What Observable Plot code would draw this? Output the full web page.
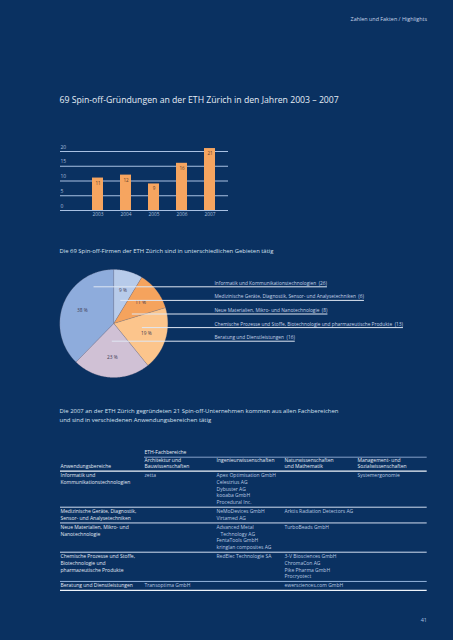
<!DOCTYPE html>
<html><head><meta charset="utf-8">
<script src="https://cdn.jsdelivr.net/npm/d3@7"></script>
<script src="https://cdn.jsdelivr.net/npm/@observablehq/plot@0.6"></script>
<style>
html,body{margin:0;padding:0;background:#0a3161;}
#page{position:relative;width:453px;height:640px;overflow:hidden;background:#0a3161;font-family:"Open Sans","Noto Sans",sans-serif;}
.abs{position:absolute;white-space:pre;}
svg{position:absolute;left:0;}
</style></head>
<body><div id="page"></div>
<script>
// ---------- DATA ----------
const headerText = "Zahlen und Fakten / Highlights";
const title1 = "69 Spin-off-Gründungen an der ETH Zürich in den Jahren 2003 – 2007";
const title2 = "Die 69 Spin-off-Firmen der ETH Zürich sind in unterschiedlichen Gebieten tätig";
const title3 = "Die 2007 an der ETH Zürich gegründeten 21 Spin-off-Unternehmen kommen aus allen Fachbereichen\nund sind in verschiedenen Anwendungsbereichen tätig";
const pageNumber = "41";

const years = ["2003", "2004", "2005", "2006", "2007"];
const spinoffs = [11, 12, 9, 16, 21];
const yTicks = [0, 5, 10, 15, 20];

// legend order (pie runs clockwise from 12 o'clock starting with the 2nd entry)
const fields = [
  "Informatik und Kommunikationstechnologien",
  "Medizinische Geräte, Diagnostik, Sensor- und Analysetechniken",
  "Neue Materialien, Mikro- und Nanotechnologie",
  "Chemische Prozesse und Stoffe, Biotechnologie und pharmazeutische Produkte",
  "Beratung und Dienstleistungen"
];
const fieldCounts = [26, 6, 8, 13, 16];
const fieldPercents = ["38 %", "9 %", "11 %", "19 %", "23 %"];
const fieldColors = ["#8eacdc", "#b7cbea", "#f5a35d", "#fcc58c", "#d0c1d5"];

const tableGroupLabel = "ETH-Fachbereiche";
const tableColumns = [
  "\nAnwendungsbereiche",
  "Architektur und\nBauwissenschaften",
  "Ingenieurwissenschaften",
  "Naturwissenschaften\nund Mathematik",
  "Management- und\nSozialwissenschaften"
];
const tableRows = [
  ["Informatik und\nKommunikationstechnologien", "zetta", "Apex Optimisation GmbH\nCelestrius AG\nDybuster AG\nkooaba GmbH\nProcedural Inc.", "", "Systemergonomie"],
  ["Medizinische Geräte, Diagnostik,\nSensor- und Analysetechniken", "", "NeMoDevices GmbH\nVirtamed AG", "Arktis Radiation Detectors AG", ""],
  ["Neue Materialien, Mikro- und\nNanotechnologie", "", "Advanced Metal\n\u00a0\u00a0\u00a0Technology AG\nFentaTools GmbH\nkringlan composites AG", "TurboBeads GmbH", ""],
  ["Chemische Prozesse und Stoffe,\nBiotechnologie und\npharmazeutische Produkte", "", "RedElec Technologie SA", "3-V Biosciences GmbH\nChromaCon AG\nPike Pharma GmbH\nProcryotect", ""],
  ["Beratung und Dienstleistungen", "Transoptima GmbH", "", "ewersciences.com GmbH", ""]
];

// ---------- LAYOUT ----------
const FONT = "'Open Sans','Noto Sans',sans-serif";
const W = 453;
const page = document.getElementById("page");

function addText(txt, {x, cy, size, color, anchor = "start", lh, weight = 400}) {
  const d = document.createElement("div");
  d.className = "abs";
  d.textContent = txt;
  const L = lh || size * 1.25;
  d.style.fontSize = size + "px";
  d.style.lineHeight = L + "px";
  d.style.top = (cy - L / 2) + "px";
  d.style.color = color;
  d.style.fontWeight = weight;
  if (anchor === "end") { d.style.right = (W - x) + "px"; d.style.textAlign = "right"; }
  else d.style.left = x + "px";
  page.appendChild(d);
}
function place(svg, top) { svg.style.top = top + "px"; page.appendChild(svg); }

addText(headerText, {x: 427, cy: 19.5, size: 5.4, color: "#c9d6ea", anchor: "end"});
addText(title1, {x: 59.5, cy: 100.5, size: 8.7, color: "#e6edf6"});
addText(title2, {x: 59.5, cy: 251.7, size: 5.9, color: "#d5e0ef"});
addText(title3, {x: 59.5, cy: 411.7, size: 5.95, color: "#d5e0ef", lh: 9});
addText(pageNumber, {x: 427, cy: 620.7, size: 5.5, color: "#a9c0e2", anchor: "end"});

// ---------- BAR CHART ----------
const barData = years.map((year, i) => ({year, value: spinoffs[i]}));
const bar = Plot.plot({
  width: W, height: 85,
  marginLeft: 60, marginRight: 225, marginTop: 11, marginBottom: 15,
  style: {background: "transparent", fontFamily: FONT},
  x: {type: "band", domain: years, range: [91, 215], paddingInner: 0.611, paddingOuter: 0, axis: null},
  y: {domain: [0, 20], axis: null},
  marks: [
    Plot.ruleY(yTicks, {stroke: "#a9c1e3", strokeWidth: 1.2}),
    Plot.barY(barData, {x: "year", y: "value", fill: "#f6a560"}),
    Plot.text(barData, {x: "year", y: "value", text: d => String(d.value), dy: 5, fontSize: 4.6, fill: "#5e402a"}),
    Plot.text(yTicks, {y: d => d, frameAnchor: "left", textAnchor: "start", dy: -4.5, text: d => String(d), fontSize: 5, fill: "#a9bedf"}),
    Plot.text(barData, {x: "year", frameAnchor: "bottom", dy: 5.7, text: "year", fontSize: 4.8, fill: "#a9bedf"})
  ]
});
place(bar, 140);

// ---------- PIE ----------
const PIE_TOP = 262;
const cx = 113.3, cy = 323 - PIE_TOP, R = 54;
const total = d3.sum(fieldCounts);
const startAngle = -2 * Math.PI * fieldCounts[0] / total;
const arcs = d3.pie().sort(null).startAngle(startAngle).endAngle(startAngle + 2 * Math.PI)(fieldCounts);

const slicePts = arcs.flatMap((a, i) => {
  const n = Math.max(2, Math.ceil((a.endAngle - a.startAngle) / 0.01));
  const pts = [{field: fields[i], x: cx, y: cy}];
  for (let k = 0; k <= n; k++) {
    const t = a.startAngle + (a.endAngle - a.startAngle) * k / n;
    pts.push({field: fields[i], x: cx + R * Math.sin(t), y: cy - R * Math.cos(t)});
  }
  pts.push({field: fields[i], x: cx, y: cy});
  return pts;
});

// legend rows
const LEG_X = 214, LEG_Y0 = 286.3 - PIE_TOP, LEG_STEP = 13.6, LEG_SIZE = 4.8;
const ctx = document.createElement("canvas").getContext("2d");
ctx.font = `${LEG_SIZE}px 'Open Sans'`;
function chordMid(a, y) {
  let lo = Infinity, hi = -Infinity;
  for (let x = cx - R; x <= cx + R; x += 0.25) {
    const dx = x - cx, dy = y - cy;
    if (dx * dx + dy * dy > R * R) continue;
    let th = Math.atan2(dx, -dy);
    while (th < a.startAngle) th += 2 * Math.PI;
    while (th >= a.startAngle + 2 * Math.PI) th -= 2 * Math.PI;
    if (th <= a.endAngle) { lo = Math.min(lo, x); hi = Math.max(hi, x); }
  }
  return (lo + hi) / 2;
}
const legendData = fields.map((f, i) => {
  const label = `${f}\u00a0 (${fieldCounts[i]})`;
  const y = LEG_Y0 + i * LEG_STEP;
  return {label, y, xs: chordMid(arcs[i], y), xe: LEG_X + ctx.measureText(label).width + 0.5};
});

const pie = Plot.plot({
  width: W, height: 122,
  style: {background: "transparent", fontFamily: FONT},
  x: {type: "identity", axis: null}, y: {type: "identity", axis: null},
  color: {domain: fields, range: fieldColors},
  marks: [
    Plot.line(slicePts, {x: "x", y: "y", z: "field", fill: "field", stroke: "#7d7482", strokeWidth: 0.4, strokeOpacity: 0.6}),
    Plot.text(arcs, {
      x: a => cx + 0.63 * R * Math.sin((a.startAngle + a.endAngle) / 2),
      y: a => cy - 0.63 * R * Math.cos((a.startAngle + a.endAngle) / 2),
      text: (a, i) => fieldPercents[i], fontSize: 4.8, fill: "#3f3c52"
    }),
    Plot.ruleY(legendData, {y: "y", x1: "xs", x2: "xe", stroke: "#dfe7f3", strokeWidth: 1}),
    Plot.text(legendData, {x: LEG_X, y: d => d.y - 3.6, text: "label", textAnchor: "start", fontSize: LEG_SIZE, fill: "#c5d3e8"})
  ]
});
place(pie, PIE_TOP);

// ---------- TABLE ----------
const T0 = 440;
const colX = [60, 144, 216, 284, 357];
const TX2 = 426.7, LH = 6.75;
const cells = [], rules = [];
cells.push({x: colX[1], y: 451.7 - T0, text: tableGroupLabel, kind: "group"});
rules.push({y: 456.7 - T0, x1: colX[1], x2: TX2, stroke: "#93add4", w: 0.9});
tableColumns.forEach((h, c) => h.split("\n").forEach((line, k) => {
  if (line) cells.push({x: colX[c], y: 460 - T0 + k * 5.7, text: line, kind: "head"});
}));
let ry = 470.7 - T0;
rules.push({y: ry, x1: colX[0], x2: TX2, stroke: "#eef3fa", w: 1.3});
tableRows.forEach((row, r) => {
  const n = d3.max(row, cell => cell ? cell.split("\n").length : 0);
  row.forEach((cell, c) => {
    if (!cell) return;
    cell.split("\n").forEach((line, k) => cells.push({x: colX[c], y: ry + 4.4 + k * LH, text: line, kind: c === 0 ? "label" : "entry"}));
  });
  ry += 9 + (n - 1) * LH;
  const last = r === tableRows.length - 1;
  rules.push({y: ry, x1: colX[0], x2: TX2,
    stroke: last ? "#eef3fa" : (r === tableRows.length - 2 ? "#93b2da" : "#d3def0"),
    w: last ? 1.2 : 1});
});
const tableColor = {group: "#e8eef7", head: "#e4ebf5", label: "#e1e8f3", entry: "#b9c9e1"};
const table = Plot.plot({
  width: W, height: 160,
  style: {background: "transparent", fontFamily: FONT},
  x: {type: "identity", axis: null}, y: {type: "identity", axis: null},
  marks: [
    Plot.ruleY(rules, {y: "y", x1: "x1", x2: "x2", stroke: d => d.stroke, strokeWidth: d => d.w}),
    Plot.text(cells, {x: "x", y: "y", text: "text", textAnchor: "start", fontSize: 5,
      fill: d => tableColor[d.kind], fontWeight: d => d.kind === "group" ? 600 : 400})
  ]
});
place(table, T0);
</script>
</body></html>
